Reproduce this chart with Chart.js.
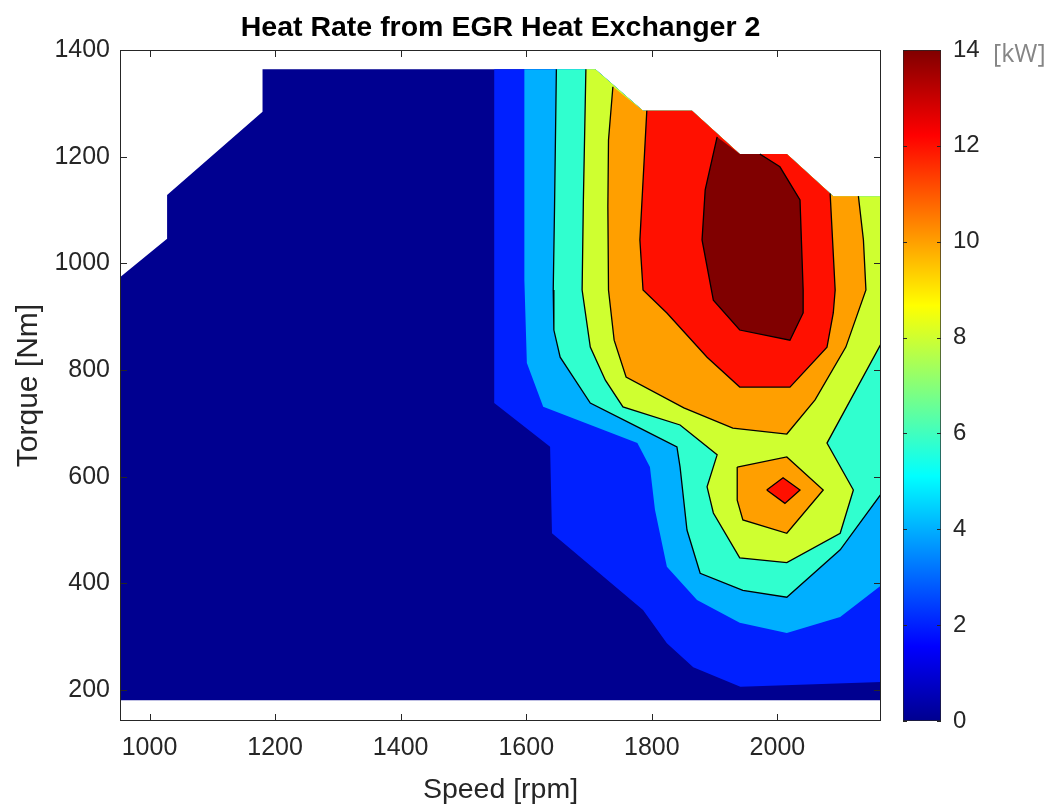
<!DOCTYPE html>
<html>
<head>
    <title>Heat Rate from EGR Heat Exchanger 2</title>
    <style>
        body{
            margin:0;
            background:white;
        }
        .wrap{
            position:relative;
            width:1049px;
            height:808px;
        }
        #contour{
            position:absolute;
            left:0;
            top:0;
        }
        #colorbar{
            position:absolute;
            left:903px;
            top:0;
        }
        .unit{
            position:absolute;
            left:993px;
            top:37px;
            font-family:"Open Sans", sans-serif;
            font-size:25px;
            line-height:30px;
            color:#858585;
        }
    </style>
</head>
<body>
<div class="wrap">
    <canvas id="contour" width="1049" height="808"></canvas>
    <canvas id="colorbar" width="146" height="808"></canvas>
    <div class="unit">[kW]</div>
</div>

<script src="https://cdn.jsdelivr.net/npm/chart.js"></script>
<script>

    const speedTicks = [1000, 1200, 1400, 1600, 1800, 2000];
    const torqueTicks = [200, 400, 600, 800, 1000, 1200, 1400];
    const heatTicks = [0, 2, 4, 6, 8, 10, 12, 14];

    // outline of the measured map, clockwise from bottom-left, [rpm, Nm]
    const mapEdge = [[953,181],[953,974],[1028,1046],[1028,1128],[1180,1284],[1180,1364],
        [1710,1364],[1786,1286],[1864,1286],[1940,1205],[2015,1205],[2089,1126],[2166,1126],[2166,181]];

    // contour lines at 2, 4, ... 14 kW, each one runs between two sides of the outline
    const iso2 = [[1549,1364],[1549,738],[1638,656],[1641,494],[1786,350],[1824,288],[1866,243],
        [1941,206],[2166,215]];
    const iso4 = [[1597,1364],[1597,969],[1601,813],[1627,731],[1777,663],[1797,618],[1805,538],
        [1824,431],[1872,369],[1940,326],[2015,307],[2100,337],[2166,397]];
    const iso6 = [[1648,1364],[1645,1100],[1643,950],[1644,875],[1654,824],[1702,738],[1781,691],[1840,656],
        [1845,618],[1856,500],[1877,419],[1945,387],[2015,374],[2100,463],[2166,569]];
    const iso8 = [[1695,1364],[1691,1119],[1689,950],[1702,843],[1726,781],[1754,731],[1845,697],
        [1904,641],[1888,581],[1898,532],[1940,448],[2015,439],[2100,494],[2121,575],[2079,663],[2166,851]];
    const iso10 = [[1738,1331],[1731,1231],[1730,1106],[1731,950],[1740,856],[1759,787],[1851,729],
        [1929,691],[2015,680],[2060,744],[2109,843],[2141,950],[2137,1044],[2129,1126]];
    const iso12 = [[1792,1286],[1781,1044],[1786,950],[1824,907],[1888,824],[1940,768],[2020,768],
        [2079,843],[2089,907],[2092,950],[2084,1131]];
    const iso14 = [[1904,1237],[1885,1138],[1880,1044],[1898,931],[1940,875],[2020,856],[2041,907],
        [2041,950],[2036,1119],[2004,1181],[1972,1205]];

    // closed peak around 2000 rpm / 575 Nm
    const island10 = [[1936,618],[2015,637],[2073,575],[2015,494],[1945,519],[1936,556]];
    const island12 = [[1983,575],[2009,598],[2036,575],[2012,550]];

    // jet colours of the filled levels 0, 2, ... 14
    const bandColors = ['#000090', '#0020ff', '#00afff', '#30ffcf', '#cfff30', '#ff9f00', '#ff1000', '#800000'];

    // close a contour line back along the outline (edge indexes where it starts / ends)
    function band(line, fromEdge, toEdge) {
        return line.concat(mapEdge.slice(fromEdge + 1, toEdge + 1).reverse());
    }

    const bands = [
        mapEdge,
        band(iso2, 5, 12),
        band(iso4, 5, 12),
        band(iso6, 5, 12),
        band(iso8, 5, 12),
        band(iso10, 6, 11),
        band(iso12, 7, 10),
        band(iso14, 8, 9)
    ];

    const toXY = pts => pts.map(p => ({x: p[0], y: p[1]}));

    let datasets = [];
    bands.forEach((pts, i) => {
        datasets.push({
            data: toXY(pts),
            showLine: true,
            fill: 'shape',
            backgroundColor: bandColors[i],
            borderWidth: 0,
            pointRadius: 0,
            order: 50 - i
        });
    });
    [[island10, 5], [island12, 6]].forEach(([pts, c], i) => {
        datasets.push({
            data: toXY(pts.concat([pts[0]])),
            showLine: true,
            fill: 'shape',
            backgroundColor: bandColors[c],
            borderColor: '#000',
            borderWidth: 1.3,
            pointRadius: 0,
            order: 30 - i
        });
    });
    // black edges only show from 6 kW up
    [iso6, iso8, iso10, iso12, iso14].forEach(line => {
        datasets.push({
            data: toXY(line),
            showLine: true,
            fill: false,
            borderColor: '#000',
            borderWidth: 1.3,
            pointRadius: 0,
            order: 0
        });
    });

    const font = 'Liberation Sans, Arial, sans-serif';
    const plain = v => String(v);

    // box round the plot with inward tick marks on all four sides
    const axesBox = {
        id: 'axesBox',
        afterDatasetsDraw(chart) {
            const {ctx, chartArea: a, scales: {x, y}} = chart;
            ctx.save();
            ctx.strokeStyle = '#262626';
            ctx.lineWidth = 1;
            ctx.beginPath();
            speedTicks.forEach(v => {
                const px = Math.round(x.getPixelForValue(v)) + 0.5;
                ctx.moveTo(px, a.bottom); ctx.lineTo(px, a.bottom - 7);
                ctx.moveTo(px, a.top); ctx.lineTo(px, a.top + 7);
            });
            torqueTicks.forEach(v => {
                const py = Math.round(y.getPixelForValue(v)) + 0.5;
                ctx.moveTo(a.left, py); ctx.lineTo(a.left + 7, py);
                ctx.moveTo(a.right, py); ctx.lineTo(a.right - 7, py);
            });
            ctx.stroke();
            ctx.strokeRect(a.left + 0.5, a.top + 0.5, a.right - a.left - 1, a.bottom - a.top - 1);
            ctx.restore();
        }
    };

    new Chart("contour", {
        type: "scatter",
        data: {datasets: datasets},
        options: {
            responsive: false,
            animation: false,
            layout: {padding: {left: 0, right: 168, top: 0, bottom: 0}},
            plugins: {
                legend: {display: false},
                tooltip: {enabled: false},
                title: {
                    display: true,
                    fullSize: false,
                    text: 'Heat Rate from EGR Heat Exchanger 2',
                    color: '#000',
                    font: {family: font, size: 28.5, weight: 'bold', lineHeight: 1.2},
                    padding: {top: 11, bottom: 4.8}
                }
            },
            scales: {
                x: {
                    type: 'linear',
                    min: 953,
                    max: 2165,
                    afterFit: s => { s.height = 87; },
                    afterBuildTicks: s => { s.ticks = speedTicks.map(v => ({value: v})); },
                    grid: {display: false, drawTicks: false},
                    border: {display: false},
                    ticks: {color: '#262626', font: {family: font, size: 25}, padding: 12, maxRotation: 0, callback: plain},
                    title: {display: true, text: 'Speed [rpm]', color: '#262626',
                        font: {family: font, size: 28.5, lineHeight: 1.2}, padding: {top: 0, bottom: 1}}
                },
                y: {
                    type: 'linear',
                    min: 142,
                    max: 1400,
                    afterFit: s => { s.width = 120; },
                    afterBuildTicks: s => { s.ticks = torqueTicks.map(v => ({value: v})); },
                    grid: {display: false, drawTicks: false},
                    border: {display: false},
                    ticks: {color: '#262626', font: {family: font, size: 25}, padding: 10, callback: plain},
                    title: {display: true, text: 'Torque [Nm]', color: '#262626',
                        font: {family: font, size: 30, lineHeight: 1.2}, padding: {top: 11, bottom: 0}}
                }
            }
        },
        plugins: [axesBox]
    });

    // jet colormap stops for the colour bar
    function jetGradient(context) {
        const {ctx, chartArea} = context.chart;
        if (!chartArea) return null;
        const g = ctx.createLinearGradient(0, chartArea.bottom, 0, chartArea.top);
        g.addColorStop(0, '#00008f');
        g.addColorStop(0.111, '#0000ff');
        g.addColorStop(0.365, '#00ffff');
        g.addColorStop(0.619, '#ffff00');
        g.addColorStop(0.873, '#ff0000');
        g.addColorStop(1, '#800000');
        return g;
    }

    const barTicks = {
        id: 'barTicks',
        afterDatasetsDraw(chart) {
            const {ctx, chartArea: a, scales: {y}} = chart;
            ctx.save();
            ctx.strokeStyle = '#262626';
            ctx.lineWidth = 1;
            ctx.beginPath();
            heatTicks.forEach(v => {
                const py = Math.round(y.getPixelForValue(v)) + 0.5;
                ctx.moveTo(a.right, py); ctx.lineTo(a.right - 4, py);
                ctx.moveTo(a.left, py); ctx.lineTo(a.left + 4, py);
            });
            ctx.stroke();
            ctx.restore();
        }
    };

    new Chart("colorbar", {
        type: "bar",
        data: {
            labels: ['kW'],
            datasets: [{
                data: [[heatTicks[0], heatTicks[heatTicks.length - 1]]],
                backgroundColor: jetGradient,
                borderColor: '#262626',
                borderWidth: 1,
                borderSkipped: false,
                barPercentage: 1,
                categoryPercentage: 1
            }]
        },
        options: {
            responsive: false,
            animation: false,
            layout: {padding: {left: 0, right: 0, top: 50, bottom: 87}},
            plugins: {legend: {display: false}, tooltip: {enabled: false}},
            scales: {
                x: {display: false},
                y: {
                    position: 'right',
                    min: 0,
                    max: 14,
                    afterFit: s => { s.width = 108; },
                    afterBuildTicks: s => { s.ticks = heatTicks.map(v => ({value: v})); },
                    grid: {display: false, drawTicks: false},
                    border: {display: false},
                    ticks: {color: '#262626', font: {family: font, size: 24}, padding: 12, callback: plain}
                }
            }
        },
        plugins: [barTicks]
    });

</script>
</body>
</html>
